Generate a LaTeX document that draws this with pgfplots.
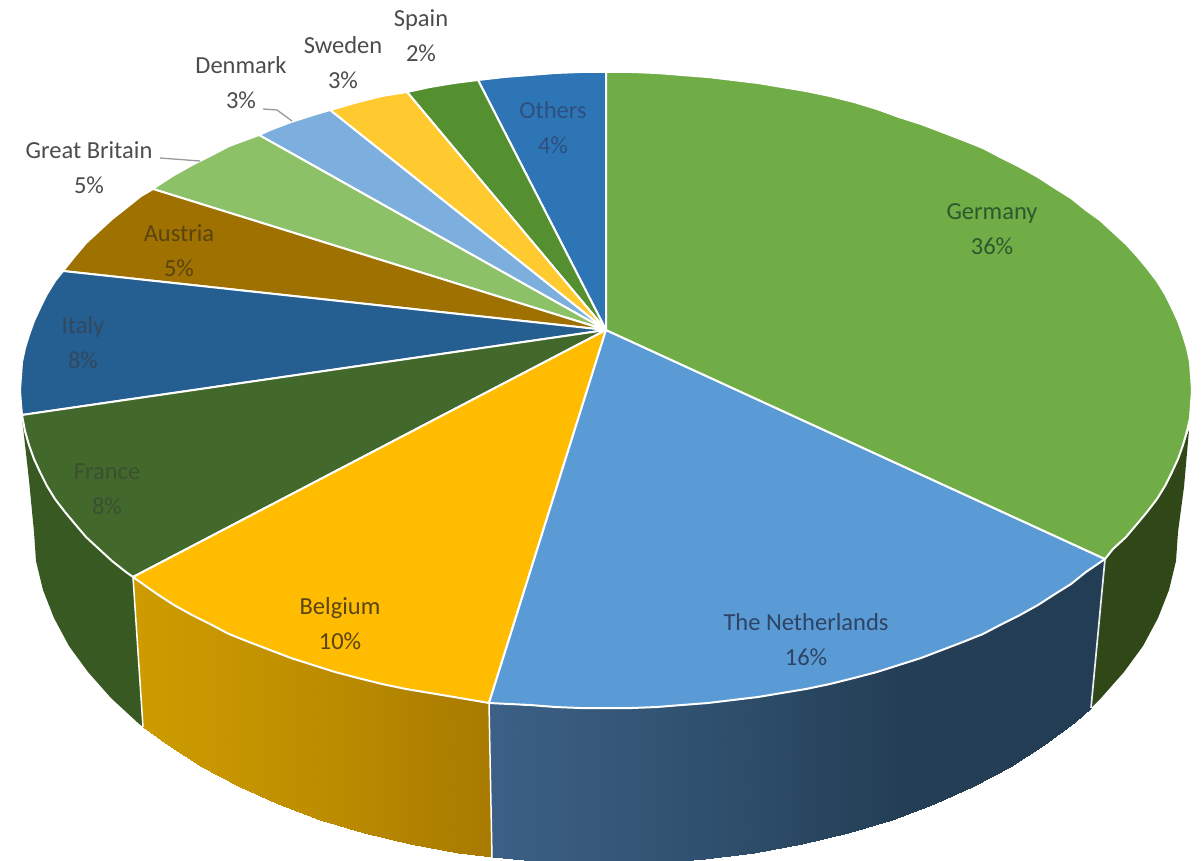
\documentclass[border=0pt]{standalone}
\usepackage{pgfplots}
\pgfplotsset{compat=1.18}
\usepackage{fontspec}
\setmainfont{Carlito}
\definecolor{cGermany}{HTML}{70AD47}
\definecolor{cNL}{HTML}{5B9BD5}
\definecolor{cBelgium}{HTML}{FFBC00}
\definecolor{cFrance}{HTML}{43682B}
\definecolor{cItaly}{HTML}{255E91}
\definecolor{cAustria}{HTML}{9E7100}
\definecolor{cGB}{HTML}{8CC168}
\definecolor{cDenmark}{HTML}{7CAFDD}
\definecolor{cSweden}{HTML}{FFCA30}
\definecolor{cSpain}{HTML}{548F30}
\definecolor{cOthers}{HTML}{2E75B6}
\definecolor{sGermany}{HTML}{304818}
\definecolor{sFrance}{HTML}{385A22}
\pgfplotsset{
  colormap={belside}{rgb255=(206,156,0) rgb255=(190,142,0) rgb255=(168,122,0)},
  colormap={nlside}{rgb255=(60,96,134) rgb255=(48,82,112) rgb255=(36,62,86) rgb255=(35,61,84)},
}
\tikzset{
  sector/.style={draw=white,line width=2pt,line join=round},
  lbl/.style={align=center,inner sep=0pt,font=\fontsize{24.5}{35}\selectfont},
}
\begin{document}
\begin{tikzpicture}
\begin{axis}[
  name=a,
  width=1203pt,height=861pt,scale only axis,
  xmin=0,xmax=1203,ymin=0,ymax=861,y dir=reverse,
  hide axis,clip=true]
% sides
\addplot[fill=sGermany,draw=none] coordinates {(1105,559)(1113,549)(1137,524)(1157,499)(1172,472)(1183,445)(1189,430)(1184,487)(1178,532)(1176,561)(1169,590)(1158,618)(1143,646)(1124,672)(1101,698)(1091,708)} -- cycle;
\addplot[fill=sFrance,draw=none] coordinates {(22,418)(29,445)(40,472)(55,499)(75,524)(99,549)(126,572)(133,577)(143,727)(137,722)(111,698)(88,672)(69,646)(54,618)(43,590)(36,561)(34,532)(29,480)} -- cycle;
\addplot[surf,shader=interp,mesh/cols=10,colormap name=belside,point meta=x,point meta rel=per plot] coordinates {
(133,577)(157,594)(192,615)(229,634)(270,650)(313,665)(358,678)(406,689)(454,697)(489,703)
(143,727)(168,745)(202,767)(238,786)(278,804)(320,820)(364,833)(410,844)(458,853)(492,857)};
\addplot[surf,shader=interp,mesh/cols=15,colormap name=nlside,point meta=x,point meta rel=per plot] coordinates {
(489,703)(555,707)(606,708)(657,707)(708,703)(758,697)(806,689)(854,678)(899,665)(942,650)(983,634)(1020,615)(1055,594)(1086,572)(1105,559)
(492,857)(556,863)(606,864)(656,863)(705,859)(754,853)(802,844)(848,833)(892,820)(934,804)(974,786)(1010,767)(1044,745)(1075,722)(1091,708)};
% vertical edges
\addplot[draw=white,line width=1.5pt] coordinates {(133,577)(143,727)};
\addplot[draw=white,line width=1.5pt] coordinates {(489,703)(492,858)};
\addplot[draw=white!85!gray,line width=1.7pt] coordinates {(1105,559)(1091,708)};
% top face
\addplot[sector,fill=cOthers] coordinates {(606,330)(478,80)(504,77)(530,75)(555,73)(580,72)(606,72)} -- cycle;
\addplot[sector,fill=cSpain] coordinates {(606,330)(407,92)(430,87)(454,83)(478,80)} -- cycle;
\addplot[sector,fill=cSweden] coordinates {(606,330)(330,110)(358,102)(382,96)(407,92)} -- cycle;
\addplot[sector,fill=cDenmark] coordinates {(606,330)(259,135)(270,130)(291,122)(313,115)(330,110)} -- cycle;
\addplot[sector,fill=cGB] coordinates {(606,330)(153,189)(157,186)(174,175)(192,165)(210,156)(229,146)(259,135)} -- cycle;
\addplot[sector,fill=cAustria] coordinates {(606,330)(63,271)(75,256)(86,243)(99,231)(112,219)(126,208)(141,196)(153,189)} -- cycle;
\addplot[sector,fill=cItaly] coordinates {(606,330)(22,415)(21,404)(20,390)(21,376)(22,362)(25,348)(29,335)(34,321)(40,308)(47,294)(55,281)(63,271)} -- cycle;
\addplot[sector,fill=cFrance] coordinates {(606,330)(133,577)(126,572)(112,561)(99,549)(86,537)(75,524)(65,512)(55,499)(47,486)(40,472)(34,459)(29,445)(25,431)(22,415)} -- cycle;
\addplot[sector,fill=cBelgium] coordinates {(606,330)(489,703)(454,697)(430,693)(406,689)(382,684)(358,678)(335,672)(313,665)(291,658)(270,650)(249,642)(229,634)(210,624)(192,615)(174,605)(157,594)(133,577)} -- cycle;
\addplot[sector,fill=cNL] coordinates {(606,330)(1105,559)(1086,572)(1071,584)(1055,594)(1038,605)(1020,615)(1002,624)(983,634)(963,642)(942,650)(921,658)(899,665)(877,672)(854,678)(830,684)(806,689)(782,693)(758,697)(733,700)(708,703)(682,705)(657,707)(632,708)(606,708)(580,708)(555,707)(530,705)(489,703)} -- cycle;
\addplot[sector,fill=cGermany] coordinates {(606,330)(606,72)(632,72)(657,73)(682,75)(708,77)(733,80)(758,83)(782,87)(806,91)(830,96)(854,102)(877,109)(899,117)(921,124)(942,132)(963,140)(983,148)(1002,158)(1020,167)(1038,177)(1055,188)(1071,198)(1086,210)(1100,220)(1113,232)(1126,244)(1137,256)(1147,268)(1157,281)(1165,294)(1172,308)(1178,321)(1183,335)(1187,348)(1190,362)(1191,376)(1192,390)(1191,404)(1190,418)(1187,431)(1183,445)(1178,459)(1172,472)(1165,486)(1157,499)(1147,512)(1137,524)(1126,537)(1113,549)(1105,559)} -- cycle;
% leaders
\addplot[draw=black!40,line width=1.3pt] coordinates {(160,158)(200,161)};
\addplot[draw=black!40,line width=1.3pt] coordinates {(263,109)(277,110)(292,121)};
% labels
\node[lbl,text=black!70] at (axis cs:421,36) {Spain\\2\%};
\node[lbl,text=black!70] at (axis cs:343,63) {Sweden\\3\%};
\node[lbl,text=black!70] at (axis cs:241,83) {Denmark\\3\%};
\node[lbl,text=black!70] at (axis cs:89,168) {Great Britain\\5\%};
\node[lbl,text={rgb,255:red,45;green,80;blue,125}] at (axis cs:553,128) {Others\\4\%};
\node[lbl,text={rgb,255:red,90;green,68;blue,15}] at (axis cs:179,251) {Austria\\5\%};
\node[lbl,text={rgb,255:red,50;green,72;blue,95}] at (axis cs:83,343) {Italy\\8\%};
\node[lbl,text={rgb,255:red,58;green,80;blue,48}] at (axis cs:107,489) {France\\8\%};
\node[lbl,text={rgb,255:red,90;green,70;blue,20}] at (axis cs:340,624) {Belgium\\10\%};
\node[lbl,text={rgb,255:red,45;green,68;blue,100}] at (axis cs:806,640) {The Netherlands\\16\%};
\node[lbl,text={rgb,255:red,45;green,88;blue,45}] at (axis cs:992,229) {Germany\\36\%};
\end{axis}
\pgfresetboundingbox
\path[use as bounding box] (a.south west) rectangle (a.north east);
\end{tikzpicture}
\end{document}
